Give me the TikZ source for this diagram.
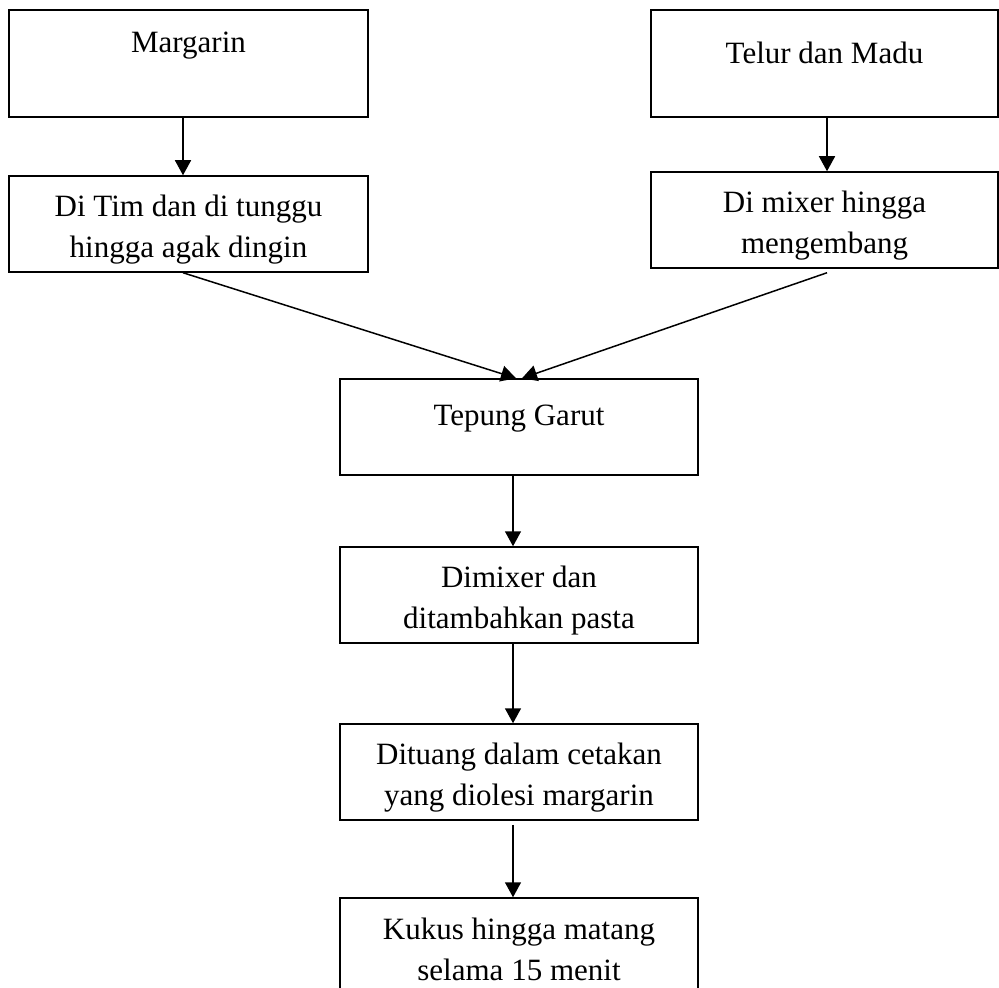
\documentclass[tikz,border=0pt]{standalone}
\usepackage{fontspec}
\setmainfont{Liberation Serif}
\usetikzlibrary{arrows.meta}

\begin{document}
\begin{tikzpicture}[x=0.5pt,y=-0.5pt,line width=0.75pt,
        >={Triangle[length=7.5pt,width=8pt]},
        box/.style={draw,align=center,font=\fontsize{15.5}{20.5}\selectfont,
            minimum width=179.5pt,minimum height=48pt,text height=37pt},
        topbox/.style={box,minimum height=53.5pt,text height=16pt,text depth=#1}]
            \useasboundingbox (0,0) rectangle (999,988);

            \node[topbox=26.9pt] (margarin) at (188.5,63.5) {Margarin};
            \node[topbox=15.9pt,minimum width=173.5pt] (telur) at (824.5,63.5) {Telur dan Madu};

            \node[box] (ditim) at (188.5,224) {Di Tim dan di tunggu\\hingga agak dingin};
            \node[box,minimum width=173.5pt] (mixer) at (824.5,220) {Di mixer hingga\\mengembang};

            \node[topbox=17.4pt,minimum height=48pt,minimum width=179pt] (tepung) at (519,427) {Tepung Garut};
            \node[box,minimum width=179pt] (pasta) at (519,595) {Dimixer dan\\ditambahkan pasta};
            \node[box,minimum width=179pt] (dituang) at (519,772) {Dituang dalam cetakan\\yang diolesi margarin};
            \node[box,minimum width=179pt,text height=35pt] (kukus) at (519,946) {Kukus hingga matang\\selama 15 menit};

            \draw[->] ([xshift=-2.75pt]margarin.south) -- ([xshift=-2.75pt]ditim.north);
            \draw[->] ([xshift=1.25pt]telur.south) -- ([xshift=1.25pt]mixer.north);

            \draw[->] ([xshift=-2.75pt]ditim.south) -- ([xshift=-1.5pt]tepung.north);
            \draw[->] ([xshift=1.25pt,yshift=-2pt]mixer.south) -- ([xshift=1.5pt]tepung.north);

            \draw[->] ([xshift=-3pt]tepung.south) -- ([xshift=-3pt]pasta.north);
            \draw[->] ([xshift=-3pt]pasta.south) -- ([xshift=-3pt]dituang.north);
            \draw[->] ([xshift=-3pt,yshift=-2pt]dituang.south) -- ([xshift=-3pt]kukus.north);

        \end{tikzpicture}
\end{document}
